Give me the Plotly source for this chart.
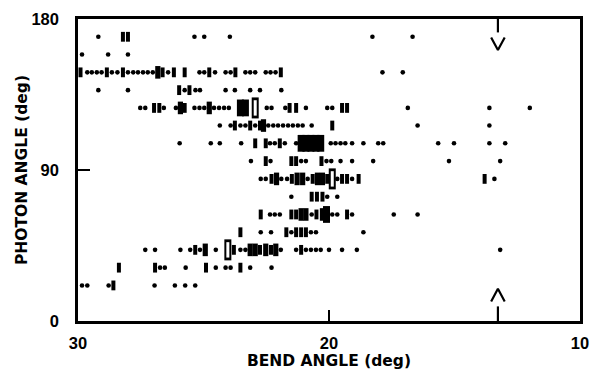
import plotly.graph_objects as go

# Photon-angle rows (deg) and bend angles (deg) of the marks in each row;
# n_* gives the multiplicity drawn for each mark (1 = single dot).
row_angles = [169.4, 158.8, 148.2, 137.6, 127.0, 116.5, 105.9, 95.3,
              84.7, 74.1, 63.5, 52.9, 42.4, 31.8, 21.2]

bend_169 = [29.19, 28.21, 28.01, 25.36, 24.97, 23.95, 18.27, 16.67]
n_169 = [1, 2, 2, 1, 1, 1, 1, 1]

bend_159 = [29.84, 28.80, 28.01]
n_159 = [1, 1, 1]

bend_148 = [29.90, 29.63, 29.45, 29.25, 29.06, 28.85, 28.65, 28.43, 28.21, 28.01,
            27.80, 27.61, 27.41, 27.22, 27.02, 26.82, 26.63, 26.41, 26.18, 25.75,
            25.16, 24.97, 24.77, 24.54, 24.12, 23.92, 23.73, 23.33, 23.14, 22.94,
            22.52, 22.33, 22.13, 21.92, 17.87, 17.06]
n_148 = [2, 1, 1, 1, 1, 2, 1, 1, 2, 1,
         1, 1, 1, 1, 1, 3, 2, 1, 2, 2,
         1, 1, 2, 1, 1, 1, 2, 1, 1, 1,
         1, 1, 1, 2, 1, 1]

bend_138 = [29.19, 28.01, 25.97, 25.75, 25.56, 25.32, 25.14, 24.12, 23.75, 23.14,
            22.75, 21.90]
n_138 = [1, 1, 2, 1, 2, 1, 1, 1, 1, 1, 1, 1]

bend_127 = [27.52, 27.32, 26.97, 26.76, 26.58, 26.10, 25.92, 25.75, 25.36, 25.16,
            24.97, 24.77, 24.58, 24.38, 24.18, 23.99, 23.53, 23.33, 22.94, 22.48,
            22.29, 21.74, 21.57, 21.31, 20.92, 20.07, 19.87, 19.48, 19.28, 16.86,
            13.61, 12.00]
n_127 = [1, 1, 2, 2, 1, 1, 3, 2, 1, 1,
         1, 3, 1, 1, 1, 1, 5, 5, 8, 1,
         1, 1, 2, 2, 1, 1, 1, 2, 2, 1,
         1, 1]

bend_116 = [24.35, 23.92, 23.75, 23.53, 23.33, 23.14, 22.94, 22.75, 22.61, 22.42,
            22.22, 22.03, 21.83, 21.63, 21.44, 21.24, 21.05, 20.69, 19.87, 16.47,
            13.61]
n_116 = [1, 1, 2, 1, 1, 2, 1, 2, 3, 1,
         1, 1, 1, 1, 1, 1, 1, 1, 2, 1,
         1]

bend_106 = [25.95, 24.71, 24.35, 23.50, 22.94, 22.52, 22.35, 22.16, 21.96, 21.76,
            21.31, 21.11, 20.92, 20.72, 20.52, 20.33, 19.93, 19.74, 19.54, 19.35,
            19.08, 18.63, 18.04, 17.84, 15.65, 15.02, 13.61, 12.98]
n_106 = [1, 1, 1, 1, 2, 2, 1, 1, 2, 1,
         1, 5, 5, 5, 5, 5, 1, 1, 1, 1,
         1, 1, 1, 1, 1, 1, 1, 1]

bend_95 = [23.11, 22.52, 22.33, 21.50, 21.31, 21.11, 20.92, 20.30, 20.10, 19.91,
           19.54, 19.08, 18.24, 15.22, 13.18]
n_95 = [1, 2, 1, 2, 2, 1, 1, 2, 1, 1, 1, 1, 1, 1, 1]

bend_85 = [22.72, 22.52, 22.29, 22.09, 21.90, 21.67, 21.48, 21.27, 21.05, 20.85,
           20.65, 20.46, 20.26, 20.07, 19.87, 19.67, 19.48, 19.28, 19.08, 18.82,
           13.80, 13.41]
n_85 = [1, 1, 2, 3, 1, 1, 2, 3, 3, 1,
        2, 3, 3, 2, 8, 1, 2, 2, 1, 2,
        2, 1]

bend_74 = [21.50, 20.69, 20.48, 20.26, 20.07, 19.67]
n_74 = [1, 2, 2, 2, 1, 1]

bend_64 = [22.72, 22.35, 22.16, 21.96, 21.50, 21.31, 21.11, 20.92, 20.69, 20.50,
           20.26, 20.10, 19.87, 19.67, 19.28, 19.08, 17.42, 16.47]
n_64 = [2, 1, 1, 1, 2, 2, 3, 3, 1, 2,
        3, 5, 1, 1, 2, 1, 1, 1]

bend_53 = [23.53, 22.72, 22.31, 21.70, 21.50, 21.31, 21.11, 20.92, 20.72, 20.52,
           18.63]
n_53 = [2, 1, 1, 2, 1, 2, 2, 2, 1, 1, 1]

bend_42 = [27.32, 26.93, 25.92, 25.53, 25.33, 25.14, 24.93, 24.51, 24.03, 23.79,
           23.53, 23.33, 23.14, 22.94, 22.75, 22.52, 22.31, 22.12, 21.92, 21.31,
           21.11, 20.92, 20.72, 20.52, 20.33, 20.00, 19.48, 18.89, 13.18]
n_42 = [1, 1, 1, 1, 2, 1, 3, 1, 8, 2,
        1, 1, 3, 3, 2, 3, 2, 3, 1, 1,
        2, 1, 1, 1, 1, 1, 1, 1, 1]

bend_32 = [28.37, 26.93, 26.73, 26.54, 25.71, 24.90, 24.51, 24.12, 23.92, 23.53,
           23.14, 22.29]
n_32 = [2, 2, 1, 1, 1, 2, 1, 1, 1, 2, 1, 1]

bend_21 = [29.84, 29.63, 28.78, 28.59, 26.95, 26.14, 25.73, 25.33]
n_21 = [1, 1, 1, 2, 1, 1, 1, 1]

row_bends = [bend_169, bend_159, bend_148, bend_138, bend_127, bend_116, bend_106,
             bend_95, bend_85, bend_74, bend_64, bend_53, bend_42, bend_32, bend_21]
row_counts = [n_169, n_159, n_148, n_138, n_127, n_116, n_106,
              n_95, n_85, n_74, n_64, n_53, n_42, n_32, n_21]

# channel marked by the arrows
arrow_bend = 13.27

x_ticks = [30, 20, 10]
y_ticks = [0, 90, 180]

TICK_FONT = "Liberation Sans"
TITLE_FONT = "DejaVu Sans"

groups = {}
for ang, bends, counts in zip(row_angles, row_bends, row_counts):
    for b, c in zip(bends, counts):
        groups.setdefault(c, ([], []))
        groups[c][0].append(b)
        groups[c][1].append(ang)

fig = go.Figure()

# single events: round dots
xs, ys = groups.get(1, ([], []))
fig.add_trace(go.Scatter(x=xs, y=ys, mode="markers", hoverinfo="skip",
                         marker=dict(symbol="circle", size=4.6, color="black",
                                     line=dict(width=0))))

# multiple events: vertical bars growing with count
bar_style = {2: (7, 4), 3: (9, 5.2), 5: (12, 7)}
for c, (sz, w) in bar_style.items():
    xs, ys = groups.get(c, ([], []))
    fig.add_trace(go.Scatter(x=xs, y=ys, mode="markers", hoverinfo="skip",
                             marker=dict(symbol="line-ns", size=sz, color="black",
                                         line=dict(width=w, color="black"))))

# largest counts: open tall rectangles
xs, ys = groups.get(8, ([], []))
fig.add_trace(go.Scatter(x=xs, y=ys, mode="markers", hoverinfo="skip",
                         marker=dict(symbol="line-ns", size=15, color="black",
                                     line=dict(width=7, color="black"))))
fig.add_trace(go.Scatter(x=xs, y=ys, mode="markers", hoverinfo="skip",
                         marker=dict(symbol="line-ns", size=11, color="white",
                                     line=dict(width=3, color="white"))))

# arrows marking the channel at the top and bottom
dx = 0.27
arrow_lines = [
    ([arrow_bend, arrow_bend], [180, 172]),
    ([arrow_bend - dx, arrow_bend, arrow_bend + dx], [169, 161.5, 169]),
    ([arrow_bend, arrow_bend], [0, 8.7]),
    ([arrow_bend - dx, arrow_bend, arrow_bend + dx], [11.6, 19.2, 11.6]),
]
for ax_, ay_ in arrow_lines:
    fig.add_trace(go.Scatter(x=ax_, y=ay_, mode="lines", hoverinfo="skip",
                             line=dict(color="black", width=2.2)))

fig.update_layout(
    width=599, height=375,
    margin=dict(l=78, r=10, t=13, b=52),
    paper_bgcolor="white", plot_bgcolor="white",
    showlegend=False,
    font=dict(family=TICK_FONT, color="black"),
)
fig.update_xaxes(
    range=[30, 10], tickvals=x_ticks, ticktext=[str(v) for v in x_ticks],
    ticks="inside", ticklen=11, tickwidth=2, tickcolor="black",
    showline=True, linewidth=2.5, linecolor="black", mirror=True,
    showgrid=False, zeroline=False, ticklabelstandoff=5,
    tickfont=dict(family=TICK_FONT, size=16.5, color="black", weight="bold"),
    title=dict(text="BEND ANGLE (deg)", standoff=3,
               font=dict(family=TITLE_FONT, size=15.5, color="black", weight="bold")),
)
fig.update_yaxes(
    range=[0, 180], tickvals=y_ticks, ticktext=[str(v) for v in y_ticks],
    ticks="inside", ticklen=12, tickwidth=2, tickcolor="black",
    showline=True, linewidth=2.5, linecolor="black", mirror=True,
    showgrid=False, zeroline=False, ticklabelstandoff=13,
    tickfont=dict(family=TICK_FONT, size=16.5, color="black", weight="bold"),
    title=dict(text="PHOTON ANGLE (deg)", standoff=0,
               font=dict(family=TITLE_FONT, size=15.5, color="black", weight="bold")),
)

fig.write_html("out.html")
